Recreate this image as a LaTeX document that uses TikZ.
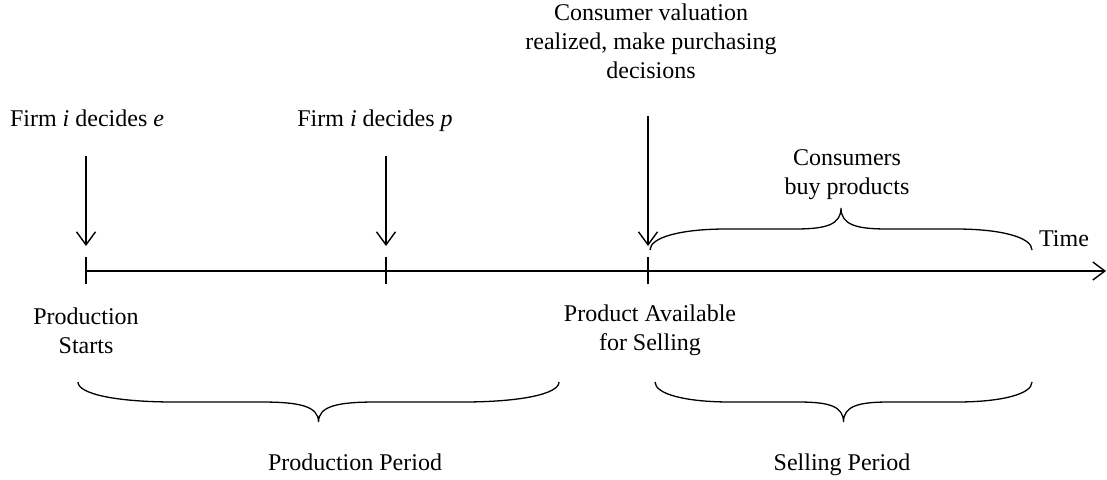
\documentclass[tikz,border=0pt]{standalone}
\usepackage{fontspec}
\setmainfont{Liberation Serif}
\usetikzlibrary{arrows.meta}
\newcommand\tlbrace[4]{%
  \pgfmathsetmacro\tlbA{#1}\pgfmathsetmacro\tlbB{#2}%
  \pgfmathsetmacro\tlbY{#3}\pgfmathsetmacro\tlbH{#4}%
  \pgfmathsetmacro\tlbM{(\tlbA+\tlbB)/2}\pgfmathsetmacro\tlbW{\tlbB-\tlbA}%
  \pgfmathsetmacro\tlbYh{\tlbY+0.5*\tlbH}\pgfmathsetmacro\tlbYt{\tlbY+\tlbH}%
  \draw[brc] (\tlbA,\tlbY)
    .. controls (\tlbA,\tlbY+0.3*\tlbH) and (\tlbA+0.08*\tlbW,\tlbYh) .. (\tlbA+0.2*\tlbW,\tlbYh)
    -- (\tlbM-0.12*\tlbW,\tlbYh)
    .. controls (\tlbM-0.04*\tlbW,\tlbYh) and (\tlbM,\tlbY+0.6*\tlbH) .. (\tlbM,\tlbYt)
    .. controls (\tlbM,\tlbY+0.6*\tlbH) and (\tlbM+0.04*\tlbW,\tlbYh) .. (\tlbM+0.12*\tlbW,\tlbYh)
    -- (\tlbB-0.2*\tlbW,\tlbYh)
    .. controls (\tlbB-0.08*\tlbW,\tlbYh) and (\tlbB,\tlbY+0.3*\tlbH) .. (\tlbB,\tlbY);%
}
\begin{document}
\begin{tikzpicture}[x=1pt,y=-1pt,
  lbl/.style={font=\fontsize{24}{29}\selectfont, align=center, inner sep=0pt, anchor=base},
  axis/.style={line width=1.4pt},
  tick/.style={line width=1.4pt},
  evt/.style={line width=1.4pt, -{Straight Barb[length=13pt,width=19pt,line width=1.4pt]}},
  brc/.style={line width=1.3pt}
]
\useasboundingbox (0,0) rectangle (1107,479);
% timeline
\coordinate (t0) at (86,271);
\coordinate (t1) at (386,271);
\coordinate (t2) at (648,271);
\coordinate (tend) at (1106,271);
\draw[axis, -{Straight Barb[length=12pt,width=18pt,line width=1.4pt]}] (t0) -- (tend);
\foreach \p in {t0,t1,t2} {
  \draw[tick] ([yshift=-13pt]\p) -- ([yshift=14pt]\p);
}
% event arrows
\coordinate (a0s) at (86,156);  \coordinate (a0e) at (86,246);
\coordinate (a1s) at (386,156); \coordinate (a1e) at (386,246);
\coordinate (a2s) at (648,116); \coordinate (a2e) at (648,246);
\draw[evt] (a0s) -- (a0e);
\draw[evt] (a1s) -- (a1e);
\draw[evt] (a2s) -- (a2e);
% top texts
\node[lbl] (fe) at (87,126) {Firm \textit{i} decides \textit{e}};
\node[lbl] (fp) at (375,126) {Firm \textit{i} decides \textit{p}};
\node[lbl] (cv) at (651,78) {Consumer valuation\\realized, make purchasing\\decisions};
\node[lbl] (cb) at (847,194) {Consumers\\buy products};
\node[lbl] (tm) at (1064,246) {Time};
% braces
\tlbrace{650}{1032}{250}{-42}
\tlbrace{78}{559}{382}{40}
\tlbrace{655}{1032}{382}{40}
% bottom texts
\node[lbl] (ps) at (86,353) {Production\\Starts};
\node[lbl] (pa) at (650,350) {Product Available\\for Selling};
\node[lbl] (pp) at (355,470) {Production Period};
\node[lbl] (sp) at (842,470) {Selling Period};
\end{tikzpicture}
\end{document}
